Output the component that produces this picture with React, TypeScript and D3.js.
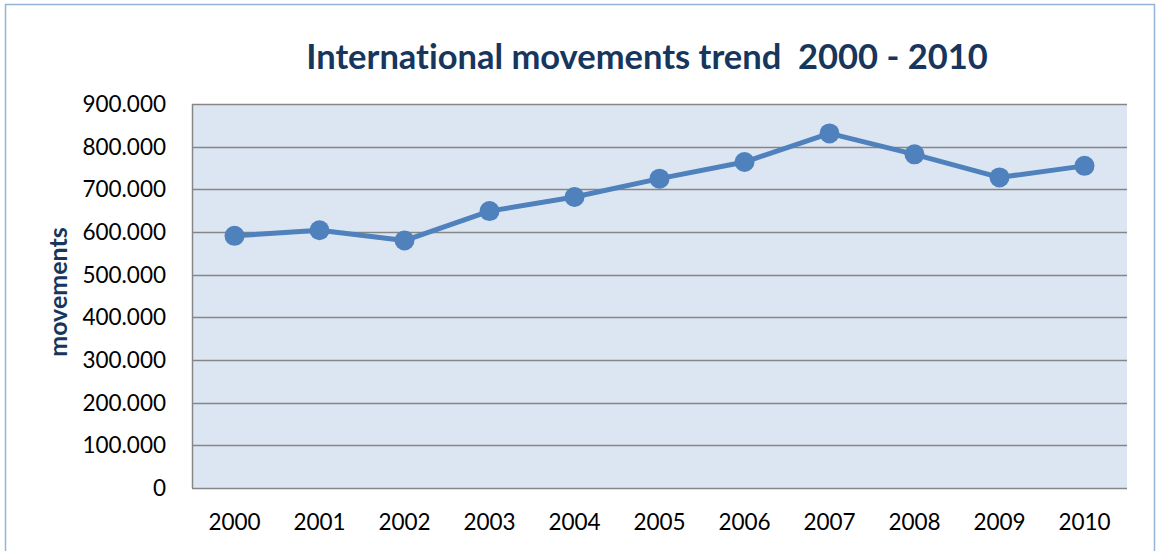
import React, { useEffect, useRef } from "react";
import * as d3 from "d3";

const years = ["2000","2001","2002","2003","2004","2005","2006","2007","2008","2009","2010"];
const movements = [591000, 604000, 580000, 649000, 682000, 725000, 764000, 831000, 782000, 728000, 755000];
const yTicks = [0, 100000, 200000, 300000, 400000, 500000, 600000, 700000, 800000, 900000];
const titleText = "International movements trend  2000 - 2010";
const yTitle = "movements";

const W = 1156, H = 551;
const M = { left: 192, right: 1127, top: 104, bottom: 488 };

export default function App() {
  const ref = useRef<SVGSVGElement>(null);
  useEffect(() => {
    const svg = d3.select(ref.current);
    svg.selectAll("*").remove();
    const font = "Lato, 'Open Sans', sans-serif";
    const locale = d3.formatLocale({ decimal: ",", thousands: ".", grouping: [3], currency: ["", ""] });
    const fmt = locale.format(",d");

    svg.append("rect").attr("x", 0).attr("y", 0).attr("width", W).attr("height", H).attr("fill", "#fff");
    svg.append("rect").attr("x", 5.5).attr("y", 4.5).attr("width", 1149).attr("height", 560)
      .attr("fill", "none").attr("stroke", "#95B3D7").attr("stroke-width", 1.5);

    const x = d3.scaleBand<string>().domain(years).range([M.left, M.right]);
    const y = d3.scaleLinear().domain([0, 900000]).range([M.bottom, M.top]);

    svg.append("rect").attr("x", M.left).attr("y", M.top).attr("width", M.right - M.left).attr("height", M.bottom - M.top).attr("fill", "#DCE6F2");

    svg.append("g").selectAll("line").data(yTicks).join("line")
      .attr("x1", M.left).attr("x2", M.right)
      .attr("y1", d => Math.round(y(d)) + 0.5).attr("y2", d => Math.round(y(d)) + 0.5)
      .attr("stroke", "#868686").attr("stroke-width", 1.5);
    svg.append("line").attr("x1", M.left + 0.5).attr("x2", M.left + 0.5).attr("y1", M.top).attr("y2", M.bottom)
      .attr("stroke", "#868686").attr("stroke-width", 1.5);

    svg.append("g").selectAll("text").data(yTicks).join("text")
      .attr("x", 166).attr("y", d => y(d)).attr("dy", "0.35em").attr("text-anchor", "end")
      .attr("font-family", font).attr("font-size", 22.5).attr("fill", "#000").text(d => fmt(d));

    svg.append("g").selectAll("text").data(years).join("text")
      .attr("x", d => x(d)! + x.bandwidth() / 2).attr("y", 522).attr("dy", "0.35em").attr("text-anchor", "middle")
      .attr("font-family", font).attr("font-size", 22.5).attr("fill", "#000").text(d => d);

    const line = d3.line<number>().x((_, i) => x(years[i])! + x.bandwidth() / 2).y(d => y(d));
    svg.append("path").datum(movements).attr("d", line).attr("fill", "none")
      .attr("stroke", "#4F81BD").attr("stroke-width", 5).attr("stroke-linejoin", "round");
    svg.append("g").selectAll("circle").data(movements).join("circle")
      .attr("cx", (_, i) => x(years[i])! + x.bandwidth() / 2).attr("cy", d => y(d)).attr("r", 10)
      .attr("fill", "#4F81BD");

    svg.append("text").attr("x", 647).attr("y", 69).attr("text-anchor", "middle")
      .attr("font-family", font).attr("font-weight", "bold").attr("font-size", 34.5).attr("fill", "#17365D")
      .style("font-variant-ligatures", "none").style("white-space", "pre").text(titleText);

    svg.append("text").attr("transform", "translate(58,292) rotate(-90)").attr("text-anchor", "middle").attr("dy", "0.35em")
      .attr("font-family", font).attr("font-weight", "bold").attr("font-size", 25).attr("fill", "#17365D")
      .text(yTitle);
  }, []);
  return <svg ref={ref} width={W} height={H} style={{ position: "fixed", left: 0, top: 0 }} />;
}
